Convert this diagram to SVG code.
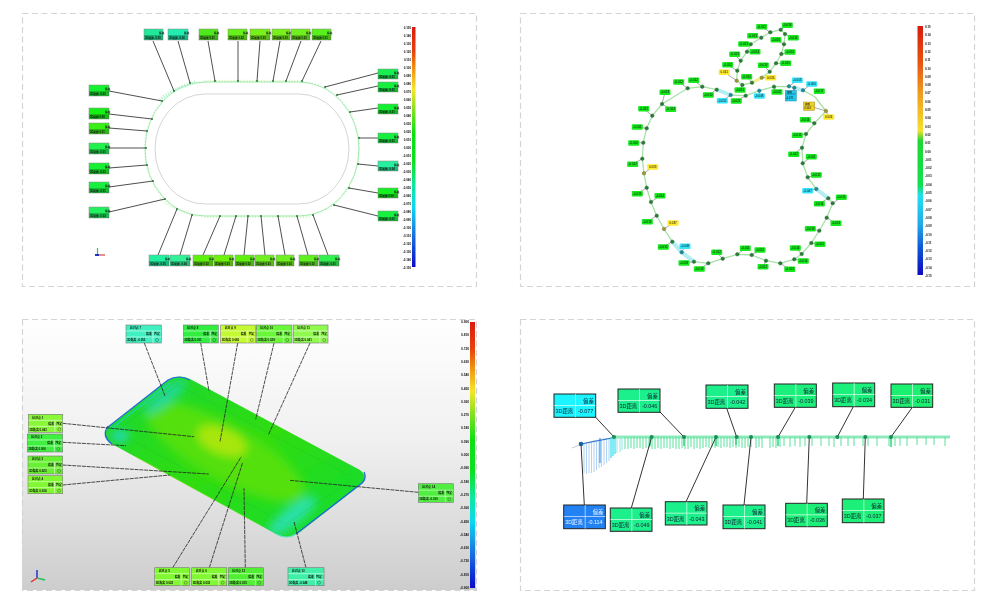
<svg xmlns="http://www.w3.org/2000/svg" width="990" height="600" viewBox="0 0 990 600">
<style>
text{font-family:"Liberation Sans","Noto Sans CJK SC",sans-serif;fill:#111}
.frame{fill:none;stroke:#d4d4d4;stroke-width:1.2;stroke-dasharray:6 3.5}
.ld{stroke:#222;stroke-width:.8;fill:none}
.a text{font-size:2.7px;font-weight:bold}
.a .box{stroke:#888;stroke-width:.5}
.a .low{fill:#000;opacity:.22}
.n{fill:#2a7a38;stroke:#1d6a2b;stroke-width:.4}
.nc{fill:#1d8c9c;stroke:#155f70;stroke-width:.4}
.ny{fill:#9a9a30;stroke:#6e6a20;stroke-width:.4}
.t rect{rx:1;ry:1}
.t text{font-size:3px;text-anchor:middle}
.g rect{fill:#14e81e}
.y rect{fill:#ffe92e}
.c rect{fill:#35e3fb}
.k{font-size:2.9px;font-weight:bold;fill:#333;text-anchor:end}
.p text{font-size:2.9px;font-weight:bold}
.p .box{stroke:#777;stroke-width:.6}
.p .sep{stroke:#fff;stroke-width:.5;fill:none}
.q text{font-size:5.4px;fill:#123}
.q .box{stroke:#222;stroke-width:1}
.q .sep{stroke:#fff;stroke-width:.6;fill:none}
.ql{stroke:#333;stroke-width:1;fill:none}
.qd{fill:#1f8c58}
</style>
<defs>
<linearGradient id="bar" x1="0" y1="0" x2="0" y2="1">
<stop offset="0" stop-color="#d81c10"/><stop offset=".1" stop-color="#e8400f"/><stop offset=".17" stop-color="#f09010"/><stop offset=".26" stop-color="#f5e62c"/><stop offset=".35" stop-color="#80e020"/><stop offset=".44" stop-color="#10e010"/><stop offset=".56" stop-color="#10e020"/><stop offset=".66" stop-color="#10e8a0"/><stop offset=".75" stop-color="#10d8f0"/><stop offset=".87" stop-color="#1470e0"/><stop offset="1" stop-color="#0c0cc8"/>
</linearGradient>
<linearGradient id="bar2" x1="0" y1="0" x2="0" y2="1">
<stop offset="0" stop-color="#d81c10"/><stop offset=".14" stop-color="#e85010"/><stop offset=".28" stop-color="#f0a020"/><stop offset=".42" stop-color="#f5e030"/><stop offset=".46" stop-color="#20d830"/><stop offset=".64" stop-color="#10e050"/><stop offset=".68" stop-color="#20e0f0"/><stop offset=".8" stop-color="#20a8e8"/><stop offset=".88" stop-color="#1060d8"/><stop offset="1" stop-color="#0808c0"/>
</linearGradient>
<linearGradient id="sky" x1="0" y1="0" x2="0" y2="1"><stop offset="0" stop-color="#fff"/><stop offset=".45" stop-color="#f0f0f0"/><stop offset="1" stop-color="#cdcdcd"/></linearGradient>
<linearGradient id="phone" x1="0" y1="0" x2="1" y2="1"><stop offset="0" stop-color="#18d838"/><stop offset=".5" stop-color="#30dc10"/><stop offset="1" stop-color="#10dc38"/></linearGradient>
<clipPath id="ph"><path d="M107 428L168 380Q180 373 192 380L360 470Q368 476 363 483L300 532Q288 541 276 534L112 444Q102 437 107 428Z"/></clipPath>
<filter id="bl" x="-30%" y="-30%" width="160%" height="160%"><feGaussianBlur stdDeviation="5"/></filter>
<filter id="b1" x="-5%" y="-5%" width="110%" height="110%"><feGaussianBlur stdDeviation=".35"/></filter>
<filter id="b2" x="-5%" y="-5%" width="110%" height="110%"><feGaussianBlur stdDeviation=".25"/></filter>
</defs>

<rect width="990" height="600" fill="#fff"/>
<rect x="22" y="319" width="454" height="271" fill="url(#sky)"/>
<rect class="frame" x="22.500" y="13.500" width="454" height="273"/>
<rect class="frame" x="520.500" y="13.500" width="454" height="273"/>
<rect class="frame" x="22.500" y="319.500" width="454" height="271"/>
<rect class="frame" x="520.500" y="319.500" width="454" height="271"/>

<!-- Panel 1 -->
<g id="panel1" filter="url(#b1)">
<g id="track">
<rect x="145" y="82" width="214" height="134" rx="60" ry="67" fill="none" stroke="#86e496" stroke-width=".8"/>
<rect x="144.500" y="81.500" width="215" height="135" rx="60" ry="67" fill="none" stroke="#a8ecb0" stroke-width="1.500" stroke-dasharray=".5 2.500"/>
<path d="M160 100Q172 89 196 82" fill="none" stroke="#a0eec0" stroke-width="3.500" stroke-dasharray=".8 1.800"/>
<path d="M205 81H300" fill="none" stroke="#c0f09c" stroke-width="2.500" stroke-dasharray=".6 2.200"/>
<path d="M160 199Q175 211 198 216M205 217H310" fill="none" stroke="#c0f0b0" stroke-width="2.500" stroke-dasharray=".6 2.200"/>
<rect x="155" y="94" width="194" height="110" rx="50" ry="55" fill="none" stroke="#cfcfcf" stroke-width=".9"/>
</g>
<g id="leaders1" class="ld">
<path d="M153 41L174 91M178 41L190 83M208 41L215 81M238 41V81M260 41L257 81M280 41L273 81M301 41L286 81M321 41L302 81"/>
<path d="M109 91L162 101M109 114L152 119M109 128L147 131M109 148H146M109 168L147 165M109 187L153 181M109 212L165 199"/>
<path d="M158 255L177 209M180 255L192 215M203 255L220 216M224 255L236 216M244 255L248 216M265 255L261 216M285 255L278 216M308 255L297 216M328 255L313 215"/>
<path d="M378 73L325 87M378 86L337 95M378 108L350 112M378 138H359M378 166L358 164M378 193L349 188M378 216L334 205"/>
</g>
<g fill="#2c7a3a">
<circle cx="174" cy="91" r="1"/><circle cx="190" cy="83" r="1"/><circle cx="215" cy="81" r="1"/><circle cx="238" cy="81" r="1"/><circle cx="257" cy="81" r="1"/><circle cx="273" cy="81" r="1"/><circle cx="286" cy="81" r="1"/><circle cx="302" cy="81" r="1"/><circle cx="162" cy="101" r="1"/><circle cx="152" cy="119" r="1"/><circle cx="147" cy="131" r="1"/><circle cx="146" cy="148" r="1"/><circle cx="147" cy="165" r="1"/><circle cx="153" cy="181" r="1"/><circle cx="165" cy="199" r="1"/><circle cx="177" cy="209" r="1"/><circle cx="192" cy="215" r="1"/><circle cx="220" cy="216" r="1"/><circle cx="236" cy="216" r="1"/><circle cx="248" cy="216" r="1"/><circle cx="261" cy="216" r="1"/><circle cx="278" cy="216" r="1"/><circle cx="297" cy="216" r="1"/><circle cx="313" cy="215" r="1"/><circle cx="325" cy="87" r="1"/><circle cx="337" cy="95" r="1"/><circle cx="350" cy="112" r="1"/><circle cx="359" cy="138" r="1"/><circle cx="358" cy="164" r="1"/><circle cx="349" cy="188" r="1"/><circle cx="334" cy="205" r="1"/>
</g>
<g id="a01" class="a" transform="translate(144,29)"><rect class="box" width="19" height="11" fill="#20e89a"/><rect class="low" y="6" width="19" height="5"/><text x="15" y="4.500">偏差</text><text x="1" y="9.500">3D距离 -0.05</text></g>
<g id="a02" class="a" transform="translate(168,29)"><rect class="box" width="20" height="11" fill="#20ecb0"/><rect class="low" y="6" width="20" height="5"/><text x="16" y="4.500">偏差</text><text x="1" y="9.500">3D距离 -0.06</text></g>
<g id="a03" class="a" transform="translate(199,29)"><rect class="box" width="19" height="11" fill="#50e81a"/><rect class="low" y="6" width="19" height="5"/><text x="15" y="4.500">偏差</text><text x="1" y="9.500">3D距离 0.01</text></g>
<g id="a04" class="a" transform="translate(228,29)"><rect class="box" width="19" height="11" fill="#68f01a"/><rect class="low" y="6" width="19" height="5"/><text x="15" y="4.500">偏差</text><text x="1" y="9.500">3D距离 0.02</text></g>
<g id="a05" class="a" transform="translate(250,29)"><rect class="box" width="20" height="11" fill="#78f01a"/><rect class="low" y="6" width="20" height="5"/><text x="16" y="4.500">偏差</text><text x="1" y="9.500">3D距离 0.03</text></g>
<g id="a06" class="a" transform="translate(272,29)"><rect class="box" width="18" height="11" fill="#78f01a"/><rect class="low" y="6" width="18" height="5"/><text x="14" y="4.500">偏差</text><text x="1" y="9.500">3D距离 0.03</text></g>
<g id="a07" class="a" transform="translate(291,29)"><rect class="box" width="19" height="11" fill="#70f01a"/><rect class="low" y="6" width="19" height="5"/><text x="15" y="4.500">偏差</text><text x="1" y="9.500">3D距离 0.02</text></g>
<g id="a08" class="a" transform="translate(312,29)"><rect class="box" width="19" height="11" fill="#58f01a"/><rect class="low" y="6" width="19" height="5"/><text x="15" y="4.500">偏差</text><text x="1" y="9.500">3D距离 0.01</text></g>
<g id="a09" class="a" transform="translate(89,85)"><rect class="box" width="20" height="11" fill="#18f030"/><rect class="low" y="6" width="20" height="5"/><text x="16" y="4.500">偏差</text><text x="1" y="9.500">3D距离 -0.01</text></g>
<g id="a10" class="a" transform="translate(89,108)"><rect class="box" width="20" height="11" fill="#18f018"/><rect class="low" y="6" width="20" height="5"/><text x="16" y="4.500">偏差</text><text x="1" y="9.500">3D距离 0.00</text></g>
<g id="a11" class="a" transform="translate(89,123)"><rect class="box" width="20" height="11" fill="#38f018"/><rect class="low" y="6" width="20" height="5"/><text x="16" y="4.500">偏差</text><text x="1" y="9.500">3D距离 0.01</text></g>
<g id="a12" class="a" transform="translate(89,143)"><rect class="box" width="20" height="11" fill="#20f050"/><rect class="low" y="6" width="20" height="5"/><text x="16" y="4.500">偏差</text><text x="1" y="9.500">3D距离 -0.01</text></g>
<g id="a13" class="a" transform="translate(89,163)"><rect class="box" width="20" height="11" fill="#18f030"/><rect class="low" y="6" width="20" height="5"/><text x="16" y="4.500">偏差</text><text x="1" y="9.500">3D距离 -0.01</text></g>
<g id="a14" class="a" transform="translate(89,182)"><rect class="box" width="20" height="11" fill="#18f040"/><rect class="low" y="6" width="20" height="5"/><text x="16" y="4.500">偏差</text><text x="1" y="9.500">3D距离 -0.01</text></g>
<g id="a15" class="a" transform="translate(89,207)"><rect class="box" width="20" height="11" fill="#20f060"/><rect class="low" y="6" width="20" height="5"/><text x="16" y="4.500">偏差</text><text x="1" y="9.500">3D距离 -0.02</text></g>
<g id="a16" class="a" transform="translate(149,255)"><rect class="box" width="20" height="11" fill="#20f0a0"/><rect class="low" y="6" width="20" height="5"/><text x="16" y="4.500">偏差</text><text x="1" y="9.500">3D距离 -0.05</text></g>
<g id="a17" class="a" transform="translate(170,255)"><rect class="box" width="20" height="11" fill="#30f098"/><rect class="low" y="6" width="20" height="5"/><text x="16" y="4.500">偏差</text><text x="1" y="9.500">3D距离 -0.04</text></g>
<g id="a18" class="a" transform="translate(193,255)"><rect class="box" width="20" height="11" fill="#60f010"/><rect class="low" y="6" width="20" height="5"/><text x="16" y="4.500">偏差</text><text x="1" y="9.500">3D距离 0.02</text></g>
<g id="a19" class="a" transform="translate(214,255)"><rect class="box" width="19" height="11" fill="#70f010"/><rect class="low" y="6" width="19" height="5"/><text x="15" y="4.500">偏差</text><text x="1" y="9.500">3D距离 0.03</text></g>
<g id="a20" class="a" transform="translate(235,255)"><rect class="box" width="19" height="11" fill="#60f010"/><rect class="low" y="6" width="19" height="5"/><text x="15" y="4.500">偏差</text><text x="1" y="9.500">3D距离 0.02</text></g>
<g id="a21" class="a" transform="translate(255,255)"><rect class="box" width="19" height="11" fill="#70f020"/><rect class="low" y="6" width="19" height="5"/><text x="15" y="4.500">偏差</text><text x="1" y="9.500">3D距离 0.03</text></g>
<g id="a22" class="a" transform="translate(276,255)"><rect class="box" width="18" height="11" fill="#70f020"/><rect class="low" y="6" width="18" height="5"/><text x="14" y="4.500">偏差</text><text x="1" y="9.500">3D距离 0.03</text></g>
<g id="a23" class="a" transform="translate(299,255)"><rect class="box" width="19" height="11" fill="#60f020"/><rect class="low" y="6" width="19" height="5"/><text x="15" y="4.500">偏差</text><text x="1" y="9.500">3D距离 0.02</text></g>
<g id="a24" class="a" transform="translate(319,255)"><rect class="box" width="20" height="11" fill="#30f050"/><rect class="low" y="6" width="20" height="5"/><text x="16" y="4.500">偏差</text><text x="1" y="9.500">3D距离 -0.01</text></g>
<g id="a25" class="a" transform="translate(378,69)"><rect class="box" width="20" height="10" fill="#18ef50"/><rect class="low" y="6" width="20" height="4"/><text x="16" y="4.500">偏差</text><text x="1" y="9">3D距离 -0.01</text></g>
<g id="a26" class="a" transform="translate(378,82)"><rect class="box" width="20" height="10" fill="#18ef40"/><rect class="low" y="6" width="20" height="4"/><text x="16" y="4.500">偏差</text><text x="1" y="9">3D距离 -0.01</text></g>
<g id="a27" class="a" transform="translate(378,104)"><rect class="box" width="20" height="10" fill="#18f030"/><rect class="low" y="6" width="20" height="4"/><text x="16" y="4.500">偏差</text><text x="1" y="9">3D距离 -0.01</text></g>
<g id="a28" class="a" transform="translate(378,133)"><rect class="box" width="20" height="10" fill="#18ef40"/><rect class="low" y="6" width="20" height="4"/><text x="16" y="4.500">偏差</text><text x="1" y="9">3D距离 -0.01</text></g>
<g id="a29" class="a" transform="translate(378,161)"><rect class="box" width="20" height="10" fill="#28f0a0"/><rect class="low" y="6" width="20" height="4"/><text x="16" y="4.500">偏差</text><text x="1" y="9">3D距离 -0.04</text></g>
<g id="a30" class="a" transform="translate(378,188)"><rect class="box" width="20" height="10" fill="#18f020"/><rect class="low" y="6" width="20" height="4"/><text x="16" y="4.500">偏差</text><text x="1" y="9">3D距离 0.00</text></g>
<g id="a31" class="a" transform="translate(378,211)"><rect class="box" width="20" height="10" fill="#18f040"/><rect class="low" y="6" width="20" height="4"/><text x="16" y="4.500">偏差</text><text x="1" y="9">3D距离 -0.01</text></g>
<rect x="412" y="27" width="3.500" height="240" fill="url(#bar)"/>
<g class="k" transform="translate(8,0)">
<text x="403" y="29">0.150</text><text x="403" y="37">0.140</text><text x="403" y="45">0.130</text><text x="403" y="53">0.120</text><text x="403" y="61">0.110</text><text x="403" y="69">0.100</text><text x="403" y="77">0.090</text><text x="403" y="85">0.080</text><text x="403" y="93">0.070</text><text x="403" y="101">0.060</text><text x="403" y="109">0.050</text><text x="403" y="117">0.040</text><text x="403" y="125">0.030</text><text x="403" y="133">0.020</text><text x="403" y="141">0.010</text><text x="403" y="149">0.000</text><text x="403" y="157">-0.010</text><text x="403" y="165">-0.020</text><text x="403" y="173">-0.030</text><text x="403" y="181">-0.040</text><text x="403" y="189">-0.050</text><text x="403" y="197">-0.060</text><text x="403" y="205">-0.070</text><text x="403" y="213">-0.080</text><text x="403" y="221">-0.090</text><text x="403" y="229">-0.100</text><text x="403" y="237">-0.110</text><text x="403" y="245">-0.120</text><text x="403" y="253">-0.130</text><text x="403" y="261">-0.140</text><text x="403" y="269">-0.150</text>
</g>
<g id="axes1" fill="none" stroke-width="1.2"><path d="M97.500 255V248" stroke="#40c050"/><path d="M97.500 255H105" stroke="#e04040"/><path d="M95 255H99" stroke="#2030c0" stroke-width="2"/></g>
</g>

<!-- Panel 2 -->
<g id="panel2" filter="url(#b2)">
<g id="apple-line" fill="none" stroke="#a8e0a8" stroke-width="1.3" stroke-linejoin="round">
<path d="M742.300 85L736.700 80.700L737.300 70.700L740.700 60.700L747 51.700L750.700 44.300L761.300 37.700L770.300 32.300L780.700 29.700L785 34L784 44.300L781.300 54L776 63.300L769.700 71.700L761.700 77.700L752 82.700Z"/>
<path d="M643.300 142.700L646.700 128.300L652.300 115.700L662 104L687.700 88.300L702.300 86.700L716.700 89.700L730.700 95L745.700 95.700L759.300 90.700L774 86.700L789 86.300L794.300 87.700L803 90.300L815 97L826 111L814.300 123.300L806 134L802 147.700L802.700 163.300L807.700 177.300L816.300 189L828.300 198.300L832.700 203.300L826.700 217.700L819.300 230.700L811.300 243L801.700 254L794.300 259.300L780.300 263.300L766 260.700L751.700 255L737.300 254.300L722.700 258.700L708.300 263.300L694 261.700L681.700 252.300L672.300 241.700L664 229L656.700 215.700L651 202L646.700 187.700L644 173.300L642.300 158.700Z"/>
<path d="M716.700 89.700L730.700 95M794.300 87.700L803 90.300M816.300 189L828.300 198.300M672.300 241.700L681.700 252.300L694 261.700" stroke="#b4eef4" stroke-width="4"/>
<path d="M752 82.700L761.700 77.700" stroke="#f2ee90" stroke-width="3"/>
</g>
<g id="ticks2" stroke="#555" stroke-width=".5">
<path d="M770.300 32.300L761.700 26.700M780.700 29.700L787.300 25.300M761.300 37.700L752.700 35.700M784 44.300L776 39.700M785 34L793.300 37.700M750.700 44.300L743.700 44M747 51.700L755 51.700M781.300 54L790 52M740.700 60.700L734.700 54.300M776 63.300L785.700 63.300M737.300 70.700L727.700 64.700M769.700 71.700L763.300 65.300M736.700 80.700L724.300 72.300M761.700 77.700L770.700 77.700M752 82.700L746.700 76.700M742.300 85L740 90M687.700 88.300L678.700 82M702.300 86.700L693.700 80.300M662 104L665 92.300M716.700 89.700L708.300 95M730.700 95L722.300 100.700M745.700 95.700L736.300 101M759.300 90.700V96M774 86.700L777 92M789 86.300L797.300 80.300M803 90.300L811.700 84M794.300 87.700L790.700 96M826 111L809.300 106M826 111L828.700 117M814.300 123.300L805.300 119.700M806 134L797.300 135.300M652.300 115.700L643.700 108.700M662 104L670.700 109.300M646.700 128.300L637.300 127M643.300 142.700L633.700 143M642.300 158.700L632.700 164.300M644 173.300L652.700 167M646.700 187.700L637.300 193.700M651 202L660 195.700M656.700 215.700L647.300 221.700M664 229L673 223M672.300 241.700L663.300 247M681.700 252.300L685 246.300M694 261.700L684 263M708.300 263.300L699.300 269M722.700 258.700L716.700 252.300M737.300 254.300L745.300 248.300M751.700 255L760 250M766 260.700L763 266.700M780.300 263.300L789.700 269.300M801.700 254L795.300 248M794.300 259.300L803.300 261M811.300 243L820 244.300M819.300 230.700L810.300 228.700M826.700 217.700L836 223.300M828.300 198.300L819.300 203.700M832.700 203.300L841.300 197.300M816.300 189L807.700 190.700M807.700 177.300L816.300 175M802.700 163.300L811.300 156.700M802 147.700L793.700 154.300"/>
</g>
<g id="nodes2">
<circle class="n" cx="742.300" cy="85" r="1.800"/><circle class="ny" cx="736.700" cy="80.700" r="1.800"/><circle class="n" cx="737.300" cy="70.700" r="1.800"/><circle class="n" cx="740.700" cy="60.700" r="1.800"/><circle class="n" cx="747" cy="51.700" r="1.800"/><circle class="n" cx="750.700" cy="44.300" r="1.800"/><circle class="n" cx="761.300" cy="37.700" r="1.800"/><circle class="n" cx="770.300" cy="32.300" r="1.800"/><circle class="n" cx="780.700" cy="29.700" r="1.800"/><circle class="n" cx="785" cy="34" r="1.800"/><circle class="n" cx="784" cy="44.300" r="1.800"/><circle class="n" cx="781.300" cy="54" r="1.800"/><circle class="n" cx="776" cy="63.300" r="1.800"/><circle class="n" cx="769.700" cy="71.700" r="1.800"/><circle class="ny" cx="761.700" cy="77.700" r="1.800"/><circle class="n" cx="752" cy="82.700" r="1.800"/>
<circle class="n" cx="643.300" cy="142.700" r="1.800"/><circle class="n" cx="646.700" cy="128.300" r="1.800"/><circle class="n" cx="652.300" cy="115.700" r="1.800"/><circle class="n" cx="662" cy="104" r="1.800"/><circle class="n" cx="687.700" cy="88.300" r="1.800"/><circle class="n" cx="702.300" cy="86.700" r="1.800"/><circle class="n" cx="716.700" cy="89.700" r="1.800"/><circle class="nc" cx="730.700" cy="95" r="1.800"/><circle class="n" cx="745.700" cy="95.700" r="1.800"/><circle class="nc" cx="759.300" cy="90.700" r="1.800"/><circle class="n" cx="774" cy="86.700" r="1.800"/><circle class="nc" cx="789" cy="86.300" r="1.800"/><circle class="nc" cx="794.300" cy="87.700" r="1.800"/><circle class="nc" cx="803" cy="90.300" r="1.800"/><circle class="ny" cx="826" cy="111" r="1.800"/><circle class="n" cx="814.300" cy="123.300" r="1.800"/><circle class="n" cx="806" cy="134" r="1.800"/><circle class="n" cx="802" cy="147.700" r="1.800"/><circle class="n" cx="802.700" cy="163.300" r="1.800"/><circle class="n" cx="807.700" cy="177.300" r="1.800"/><circle class="nc" cx="816.300" cy="189" r="1.800"/><circle class="n" cx="828.300" cy="198.300" r="1.800"/><circle class="n" cx="832.700" cy="203.300" r="1.800"/><circle class="n" cx="826.700" cy="217.700" r="1.800"/><circle class="n" cx="819.300" cy="230.700" r="1.800"/><circle class="n" cx="811.300" cy="243" r="1.800"/><circle class="n" cx="801.700" cy="254" r="1.800"/><circle class="n" cx="794.300" cy="259.300" r="1.800"/><circle class="n" cx="780.300" cy="263.300" r="1.800"/><circle class="n" cx="766" cy="260.700" r="1.800"/><circle class="n" cx="751.700" cy="255" r="1.800"/><circle class="n" cx="737.300" cy="254.300" r="1.800"/><circle class="n" cx="722.700" cy="258.700" r="1.800"/><circle class="n" cx="708.300" cy="263.300" r="1.800"/><circle class="n" cx="694" cy="261.700" r="1.800"/><circle class="nc" cx="681.700" cy="252.300" r="1.800"/><circle class="n" cx="672.300" cy="241.700" r="1.800"/><circle class="ny" cx="664" cy="229" r="1.800"/><circle class="n" cx="656.700" cy="215.700" r="1.800"/><circle class="n" cx="651" cy="202" r="1.800"/><circle class="n" cx="646.700" cy="187.700" r="1.800"/><circle class="ny" cx="644" cy="173.300" r="1.800"/><circle class="n" cx="642.300" cy="158.700" r="1.800"/>
</g>
<g id="tags2" class="t">
<g class="g"><rect x="756.200" y="24" width="11" height="5.400"/><text x="761.700" y="27.800">-0.012</text></g>
<g class="g"><rect x="781.800" y="22.600" width="11" height="5.400"/><text x="787.300" y="26.400">-0.018</text></g>
<g class="g"><rect x="747.200" y="33" width="11" height="5.400"/><text x="752.700" y="36.800">-0.013</text></g>
<g class="g"><rect x="770.500" y="37" width="11" height="5.400"/><text x="776" y="40.800">-0.016</text></g>
<g class="g"><rect x="787.800" y="35" width="11" height="5.400"/><text x="793.300" y="38.800">-0.016</text></g>
<g class="g"><rect x="738.200" y="41.300" width="11" height="5.400"/><text x="743.700" y="45.100">-0.013</text></g>
<g class="g"><rect x="749.500" y="49" width="11" height="5.400"/><text x="755" y="52.800">-0.014</text></g>
<g class="g"><rect x="784.500" y="49.300" width="11" height="5.400"/><text x="790" y="53.100">-0.015</text></g>
<g class="g"><rect x="729.200" y="51.600" width="11" height="5.400"/><text x="734.700" y="55.400">-0.013</text></g>
<g class="g"><rect x="780.200" y="60.600" width="11" height="5.400"/><text x="785.700" y="64.400">-0.015</text></g>
<g class="g"><rect x="722.200" y="62" width="11" height="5.400"/><text x="727.700" y="65.800">-0.012</text></g>
<g class="g"><rect x="757.800" y="62.600" width="11" height="5.400"/><text x="763.300" y="66.400">-0.013</text></g>
<g class="y"><rect x="718.800" y="69.600" width="11" height="5.400"/><text x="724.300" y="73.400">0.041</text></g>
<g class="y"><rect x="765.200" y="75" width="11" height="5.400"/><text x="770.700" y="78.800">0.036</text></g>
<g class="g"><rect x="741.200" y="74" width="11" height="5.400"/><text x="746.700" y="77.800">-0.010</text></g>
<g class="g"><rect x="734.500" y="87.300" width="11" height="5.400"/><text x="740" y="91.100">-0.011</text></g>
<g class="g"><rect x="673.200" y="79.300" width="11" height="5.400"/><text x="678.700" y="83.100">-0.012</text></g>
<g class="g"><rect x="688.200" y="77.600" width="11" height="5.400"/><text x="693.700" y="81.400">-0.012</text></g>
<g class="g"><rect x="659.500" y="89.600" width="11" height="5.400"/><text x="665" y="93.400">-0.013</text></g>
<g class="g"><rect x="702.800" y="92.300" width="11" height="5.400"/><text x="708.300" y="96.100">-0.010</text></g>
<g class="c"><rect x="716.800" y="98" width="11" height="5.400"/><text x="722.300" y="101.800">-0.052</text></g>
<g class="g"><rect x="730.800" y="98.300" width="11" height="5.400"/><text x="736.300" y="102.100">-0.021</text></g>
<g class="c"><rect x="753.800" y="93.300" width="11" height="5.400"/><text x="759.300" y="97.100">-0.048</text></g>
<g class="g"><rect x="771.500" y="89.300" width="11" height="5.400"/><text x="777" y="93.100">-0.022</text></g>
<g class="c"><rect x="791.800" y="77.600" width="11" height="5.400"/><text x="797.300" y="81.400">-0.053</text></g>
<g class="c"><rect x="806.200" y="81.300" width="11" height="5.400"/><text x="811.700" y="85.100">-0.050</text></g>
<g class="g"><rect x="813.800" y="88.600" width="11" height="5.400"/><text x="819.300" y="92.400">-0.017</text></g>
<g class="y"><rect x="823.200" y="114.300" width="11" height="5.400"/><text x="828.700" y="118.100">0.034</text></g>
<g class="g"><rect x="799.800" y="117" width="11" height="5.400"/><text x="805.300" y="120.800">-0.014</text></g>
<g class="g"><rect x="791.800" y="132.600" width="11" height="5.400"/><text x="797.300" y="136.400">-0.012</text></g>
<g class="g"><rect x="638.200" y="106" width="11" height="5.400"/><text x="643.700" y="109.800">-0.012</text></g>
<g class="g"><rect x="665.200" y="106.600" width="11" height="5.400"/><text x="670.700" y="110.400">-0.013</text></g>
<g class="g"><rect x="631.800" y="124.300" width="11" height="5.400"/><text x="637.300" y="128.100">-0.011</text></g>
<g class="g"><rect x="628.200" y="140.300" width="11" height="5.400"/><text x="633.700" y="144.100">-0.010</text></g>
<g class="g"><rect x="627.200" y="161.600" width="11" height="5.400"/><text x="632.700" y="165.400">-0.012</text></g>
<g class="y"><rect x="647.200" y="164.300" width="11" height="5.400"/><text x="652.700" y="168.100">0.033</text></g>
<g class="g"><rect x="631.800" y="191" width="11" height="5.400"/><text x="637.300" y="194.800">-0.013</text></g>
<g class="g"><rect x="654.500" y="193" width="11" height="5.400"/><text x="660" y="196.800">-0.014</text></g>
<g class="g"><rect x="641.800" y="219" width="11" height="5.400"/><text x="647.300" y="222.800">-0.013</text></g>
<g class="y"><rect x="667.500" y="220.300" width="11" height="5.400"/><text x="673" y="224.100">0.037</text></g>
<g class="g"><rect x="657.800" y="244.300" width="11" height="5.400"/><text x="663.300" y="248.100">-0.015</text></g>
<g class="c"><rect x="679.500" y="243.600" width="11" height="5.400"/><text x="685" y="247.400">-0.049</text></g>
<g class="g"><rect x="678.500" y="260.300" width="11" height="5.400"/><text x="684" y="264.100">-0.018</text></g>
<g class="g"><rect x="693.800" y="266.300" width="11" height="5.400"/><text x="699.300" y="270.100">-0.013</text></g>
<g class="g"><rect x="711.200" y="249.600" width="11" height="5.400"/><text x="716.700" y="253.400">-0.012</text></g>
<g class="g"><rect x="739.800" y="245.600" width="11" height="5.400"/><text x="745.300" y="249.400">-0.011</text></g>
<g class="g"><rect x="754.500" y="247.300" width="11" height="5.400"/><text x="760" y="251.100">-0.012</text></g>
<g class="g"><rect x="757.500" y="264" width="11" height="5.400"/><text x="763" y="267.800">-0.012</text></g>
<g class="g"><rect x="784.200" y="266.600" width="11" height="5.400"/><text x="789.700" y="270.400">-0.013</text></g>
<g class="g"><rect x="789.800" y="245.300" width="11" height="5.400"/><text x="795.300" y="249.100">-0.014</text></g>
<g class="g"><rect x="797.800" y="258.300" width="11" height="5.400"/><text x="803.300" y="262.100">-0.014</text></g>
<g class="g"><rect x="814.500" y="241.600" width="11" height="5.400"/><text x="820" y="245.400">-0.012</text></g>
<g class="g"><rect x="804.800" y="226" width="11" height="5.400"/><text x="810.300" y="229.800">-0.013</text></g>
<g class="g"><rect x="830.500" y="220.600" width="11" height="5.400"/><text x="836" y="224.400">-0.013</text></g>
<g class="g"><rect x="813.800" y="201" width="11" height="5.400"/><text x="819.300" y="204.800">-0.014</text></g>
<g class="g"><rect x="835.800" y="194.600" width="11" height="5.400"/><text x="841.300" y="198.400">-0.015</text></g>
<g class="c"><rect x="802.200" y="188" width="11" height="5.400"/><text x="807.700" y="191.800">-0.047</text></g>
<g class="g"><rect x="810.800" y="172.300" width="11" height="5.400"/><text x="816.300" y="176.100">-0.012</text></g>
<g class="g"><rect x="805.800" y="154" width="11" height="5.400"/><text x="811.300" y="157.800">-0.011</text></g>
<g class="g"><rect x="788.200" y="151.600" width="11" height="5.400"/><text x="793.700" y="155.400">-0.012</text></g>
</g>
<g id="boxes2">
<g id="box-blue"><rect x="785.300" y="90.500" width="11" height="10.500" fill="#1fc8ec" stroke="#1a8ca8" stroke-width=".5"/><path d="M785.800 94H795.800" stroke="#136" stroke-width=".4"/><text x="787" y="93.300" style="font-size:2.600px">偏差</text><text x="786" y="98.500" style="font-size:2.600px">-0.071</text></g>
<g id="box-yellow"><rect x="803.700" y="102" width="11" height="8.300" fill="#f0d020" stroke="#a08a20" stroke-width=".5"/><path d="M804 106H814.500" stroke="#7a6" stroke-width=".4"/><text x="805" y="105" style="font-size:2.600px">偏差</text><text x="804.500" y="109.300" style="font-size:2.600px">0.044</text></g>
</g>
<rect x="917.500" y="26" width="5.500" height="249" fill="url(#bar2)"/>
<g class="k" style="text-anchor:start">
<text x="925" y="28">0.15</text><text x="925" y="36.300">0.14</text><text x="925" y="44.600">0.13</text><text x="925" y="52.900">0.12</text><text x="925" y="61.200">0.11</text><text x="925" y="69.500">0.10</text><text x="925" y="77.800">0.09</text><text x="925" y="86.100">0.08</text><text x="925" y="94.400">0.07</text><text x="925" y="102.700">0.06</text><text x="925" y="111">0.05</text><text x="925" y="119.300">0.04</text><text x="925" y="127.600">0.03</text><text x="925" y="135.900">0.02</text><text x="925" y="144.200">0.01</text><text x="925" y="152.500">0.00</text><text x="925" y="160.800">-0.01</text><text x="925" y="169.100">-0.02</text><text x="925" y="177.400">-0.03</text><text x="925" y="185.700">-0.04</text><text x="925" y="194">-0.05</text><text x="925" y="202.300">-0.06</text><text x="925" y="210.600">-0.07</text><text x="925" y="218.900">-0.08</text><text x="925" y="227.200">-0.09</text><text x="925" y="235.500">-0.10</text><text x="925" y="243.800">-0.11</text><text x="925" y="252.100">-0.12</text><text x="925" y="260.400">-0.13</text><text x="925" y="268.700">-0.14</text><text x="925" y="277">-0.15</text>
</g>
</g>

<!-- Panel 3 -->
<g id="panel3" filter="url(#b2)">
<g id="phone-body">
<path d="M107 428L168 380Q180 373 192 380L360 470Q368 476 363 483L300 532Q288 541 276 534L112 444Q102 437 107 428Z" fill="url(#phone)"/>
<g clip-path="url(#ph)">
<g filter="url(#bl)">
<ellipse cx="225" cy="452" rx="90" ry="28" transform="rotate(29 225 452)" fill="#52e010"/>
<ellipse cx="222" cy="441" rx="26" ry="13" transform="rotate(22 222 441)" fill="#a8e60c"/>
<ellipse cx="165" cy="397" rx="26" ry="7" transform="rotate(-38 165 397)" fill="#24d898"/>
<ellipse cx="292" cy="516" rx="30" ry="9" transform="rotate(-38 292 516)" fill="#2ce0a8"/>
<ellipse cx="120" cy="436" rx="9" ry="6" fill="#24d8c0"/>
</g>
<path d="M135 457L260 526" stroke="#8ce020" stroke-width="2" fill="none" opacity=".75"/>
<path d="M118 430L178 385L350 476M128 438L285 524L352 480" fill="none" stroke="#109030" stroke-width=".4" stroke-dasharray="1.500 1.500" opacity=".5"/>
</g>
<path d="M108 427L168 380Q178 374 190 380" fill="none" stroke="#2468dc" stroke-width="1.200"/>
<path d="M111 429L170 383" fill="none" stroke="#20d0e8" stroke-width="1.200" opacity=".7"/>
<path d="M296 534L362 483Q367 478 364 472" fill="none" stroke="#2468dc" stroke-width="1.300"/>
<path d="M108 426Q101 436 112 444" fill="none" stroke="#2468dc" stroke-width="1.300"/>
<path d="M276 534Q287 540 296 534" fill="none" stroke="#60e0c0" stroke-width="1.200"/>
</g>
<g id="leaders3" class="ld" stroke-dasharray="4 .8">
<path d="M144.300 343L165.300 396.700M200.700 343L209 391M237.700 343L220 441.700M274 343L255.700 419.300M310 343L268.300 435"/>
<path d="M62.700 423.300L194 436.700M62.700 442.300L126 445.700M62.700 465L208.700 474M62.700 485L170 475"/>
<path d="M172.700 567.700L241.300 456.700M209.300 567.700L242.700 462.300M245.300 567.700L244 488.300M306 567.700L294 521.700M418.300 492.300L289.300 480.300"/>
</g>
<g id="p01" class="p" transform="translate(126,325)"><rect class="box" width="35.300" height="18" fill="#40f0c0"/><path class="sep" d="M0 6H35.300M0 12H35.300M27 6V18"/><text x="4" y="4.300">比对点 7</text><text x="20" y="10.300">偏差</text><text x="28" y="10.300">判定</text><text x="1" y="16.300">3D距离 -0.053</text><circle cx="31" cy="15" r="1.500" fill="none" stroke="#333" stroke-width=".4"/></g>
<g id="p02" class="p" transform="translate(183.300,325)"><rect class="box" width="35" height="18" fill="#30ee40"/><path class="sep" d="M0 6H35M0 12H35M27 6V18"/><text x="4" y="4.300">比对点 8</text><text x="20" y="10.300">偏差</text><text x="28" y="10.300">判定</text><text x="1" y="16.300">3D距离 0.011</text><circle cx="31" cy="15" r="1.500" fill="none" stroke="#333" stroke-width=".4"/></g>
<g id="p03" class="p" transform="translate(220.700,325)"><rect class="box" width="34.600" height="18" fill="#c4fa30"/><path class="sep" d="M0 6H34.600M0 12H34.600M26.500 6V18"/><text x="4" y="4.300">比对点 9</text><text x="20" y="10.300">偏差</text><text x="28" y="10.300">判定</text><text x="1" y="16.300">3D距离 0.065</text><circle cx="31" cy="15" r="1.500" fill="none" stroke="#333" stroke-width=".4"/></g>
<g id="p04" class="p" transform="translate(256.300,325)"><rect class="box" width="35.700" height="18" fill="#68f838"/><path class="sep" d="M0 6H35.700M0 12H35.700M27 6V18"/><text x="4" y="4.300">比对点 10</text><text x="20" y="10.300">偏差</text><text x="28" y="10.300">判定</text><text x="1" y="16.300">3D距离 0.029</text><circle cx="31" cy="15" r="1.500" fill="none" stroke="#333" stroke-width=".4"/></g>
<g id="p05" class="p" transform="translate(293.300,325)"><rect class="box" width="34.700" height="18" fill="#90fa50"/><path class="sep" d="M0 6H34.700M0 12H34.700M26.500 6V18"/><text x="4" y="4.300">比对点 11</text><text x="20" y="10.300">偏差</text><text x="28" y="10.300">判定</text><text x="1" y="16.300">3D距离 0.041</text><circle cx="31" cy="15" r="1.500" fill="none" stroke="#333" stroke-width=".4"/></g>
<g id="p06" class="p" transform="translate(28.300,414.300)"><rect class="box" width="34.400" height="18" fill="#88f838"/><path class="sep" d="M0 6H34.400M0 12H34.400M26.500 6V18"/><text x="4" y="4.300">比对点 1</text><text x="20" y="10.300">偏差</text><text x="28" y="10.300">判定</text><text x="1" y="16.300">3D距离 0.043</text><circle cx="31" cy="15" r="1.500" fill="none" stroke="#333" stroke-width=".4"/></g>
<g id="p07" class="p" transform="translate(27.300,434)"><rect class="box" width="35.400" height="18" fill="#40f040"/><path class="sep" d="M0 6H35.400M0 12H35.400M27 6V18"/><text x="4" y="4.300">比对点 2</text><text x="20" y="10.300">偏差</text><text x="28" y="10.300">判定</text><text x="1" y="16.300">3D距离 0.006</text><circle cx="31" cy="15" r="1.500" fill="none" stroke="#333" stroke-width=".4"/></g>
<g id="p08" class="p" transform="translate(28,456)"><rect class="box" width="34.700" height="18" fill="#68f030"/><path class="sep" d="M0 6H34.700M0 12H34.700M26.500 6V18"/><text x="4" y="4.300">比对点 3</text><text x="20" y="10.300">偏差</text><text x="28" y="10.300">判定</text><text x="1" y="16.300">3D距离 0.023</text><circle cx="31" cy="15" r="1.500" fill="none" stroke="#333" stroke-width=".4"/></g>
<g id="p09" class="p" transform="translate(28,475.700)"><rect class="box" width="34.700" height="18" fill="#80f830"/><path class="sep" d="M0 6H34.700M0 12H34.700M26.500 6V18"/><text x="4" y="4.300">比对点 4</text><text x="20" y="10.300">偏差</text><text x="28" y="10.300">判定</text><text x="1" y="16.300">3D距离 0.034</text><circle cx="31" cy="15" r="1.500" fill="none" stroke="#333" stroke-width=".4"/></g>
<g id="p10" class="p" transform="translate(154.700,567.700)"><rect class="box" width="34.600" height="18" fill="#80f830"/><path class="sep" d="M0 6H34.600M0 12H34.600M26.500 6V18"/><text x="4" y="4.300">比对点 5</text><text x="20" y="10.300">偏差</text><text x="28" y="10.300">判定</text><text x="1" y="16.300">3D距离 0.022</text><circle cx="31" cy="15" r="1.500" fill="none" stroke="#333" stroke-width=".4"/></g>
<g id="p11" class="p" transform="translate(191.700,567.700)"><rect class="box" width="35" height="18" fill="#80f830"/><path class="sep" d="M0 6H35M0 12H35M27 6V18"/><text x="4" y="4.300">比对点 6</text><text x="20" y="10.300">偏差</text><text x="28" y="10.300">判定</text><text x="1" y="16.300">3D距离 0.032</text><circle cx="31" cy="15" r="1.500" fill="none" stroke="#333" stroke-width=".4"/></g>
<g id="p12" class="p" transform="translate(228.300,567.700)"><rect class="box" width="35" height="18" fill="#50f030"/><path class="sep" d="M0 6H35M0 12H35M27 6V18"/><text x="4" y="4.300">比对点 12</text><text x="20" y="10.300">偏差</text><text x="28" y="10.300">判定</text><text x="1" y="16.300">3D距离 0.015</text><circle cx="31" cy="15" r="1.500" fill="none" stroke="#333" stroke-width=".4"/></g>
<g id="p13" class="p" transform="translate(288,567.700)"><rect class="box" width="36" height="18" fill="#40f0a8"/><path class="sep" d="M0 6H36M0 12H36M27.500 6V18"/><text x="4" y="4.300">比对点 13</text><text x="20" y="10.300">偏差</text><text x="28" y="10.300">判定</text><text x="1" y="16.300">3D距离 -0.048</text><circle cx="31" cy="15" r="1.500" fill="none" stroke="#333" stroke-width=".4"/></g>
<g id="p14" class="p" transform="translate(418.300,483.700)"><rect class="box" width="35" height="18.600" fill="#50ee40"/><path class="sep" d="M0 6.500H35M0 12.500H35M27 6.500V18.600"/><text x="4" y="4.500">比对点 14</text><text x="20" y="10.600">偏差</text><text x="28" y="10.600">判定</text><text x="1" y="16.800">3D距离 -0.010</text><circle cx="31" cy="15.500" r="1.500" fill="none" stroke="#333" stroke-width=".4"/></g>
<rect x="470" y="322" width="5" height="266" fill="url(#bar)"/>
<g class="k" style="font-size:3.200px" transform="translate(10,0)">
<text x="459" y="323">0.900</text><text x="459" y="336.300">0.810</text><text x="459" y="349.600">0.720</text><text x="459" y="362.900">0.630</text><text x="459" y="376.200">0.540</text><text x="459" y="389.500">0.450</text><text x="459" y="402.800">0.360</text><text x="459" y="416.100">0.270</text><text x="459" y="429.400">0.180</text><text x="459" y="442.700">0.090</text><text x="459" y="456">0.000</text><text x="459" y="469.300">-0.090</text><text x="459" y="482.600">-0.180</text><text x="459" y="495.900">-0.270</text><text x="459" y="509.200">-0.360</text><text x="459" y="522.500">-0.450</text><text x="459" y="535.800">-0.540</text><text x="459" y="549.100">-0.630</text><text x="459" y="562.400">-0.720</text><text x="459" y="575.700">-0.810</text><text x="459" y="589">-0.900</text>
</g>
<g id="axes3" fill="none" stroke-width="1.500"><path d="M37 578V570" stroke="#2030d0"/><path d="M37 578L31 582" stroke="#e03030"/><path d="M37 578L45 580" stroke="#20c060"/></g>
</g>

<!-- Panel 4 -->
<g id="panel4" filter="url(#b2)">
<g id="needles">
<path d="M572 448Q590 440 612 438" fill="none" stroke="#c8c8c8" stroke-width="1"/>
<path d="M584 444V473M586.500 443V474M589 442V473M591.500 442V473M594 441V472M596.500 441V470M599 440V468M601.500 440V467M604 439V465M606.500 439V463M609 438V461" stroke="#a8cdf2" stroke-width=".9" fill="none"/>
<path d="M600 438V463" stroke="#3090e8" stroke-width="1.100" fill="none"/>
<path d="M581 444L612 438" stroke="#2070d8" stroke-width="1" fill="none"/>
<path d="M611 437V458M613 437V456M615 437V454" stroke="#30e0f0" stroke-width="1.200" fill="none"/>
<path d="M617 437V453M620 437V452M622 437V450" stroke="#90e4e8" stroke-width="1" fill="none"/>
<rect x="612" y="435.500" width="338" height="3" fill="#8eeabc"/>
<path d="M625 437V449M628 437V449M631 437V448M634 437V449M637 437V448M640 437V448M643 437V449M646 437V448M649 437V448M652 437V449M655 437V449M658 437V448M661 437V449M664 437V448M667 437V448M670 437V449M673 437V448M676 437V449M679 437V449M682 437V448M685 437V449M688 437V449M691 437V447M694 437V449M697 437V448M700 437V449M703 437V448M706 437V447M709 437V448M712 437V447M715 437V448M718 437V447M721 437V448M724 437V447M727 437V447M730 437V448M733 437V447M736 437V448M739 437V447M742 437V448M745 437V448M748 437V447M751 437V447M756 437V448M759 437V447M762 437V448M770 437V448M773 437V447M776 437V448M780 437V447M784 437V446M790 437V447M795 437V446M800 437V447M805 437V446M812 437V446M821 437V446M829 437V446M834 437V447M841 437V446M848 437V446M854 437V446M863 437V446M868 437V446M877 437V446M889 437V446M895 437V446M900 437V446M907 437V446M917 437V445M926 437V445M934 437V445M945 437V446" stroke="#56e29a" stroke-width="1" fill="none"/>
<path d="M650 437V446M684 437V446M716 437V446M736 437V445M778 437V446M891 437V447" stroke="#3fd888" stroke-width="1.600" fill="none"/>
</g>
<g id="leaders4" class="ql">
<path d="M595.700 417.300L614 437M660 412L684 437M726.700 408.300L736.700 437M795.300 407.300L778 437M853.300 406.700L837.300 437M912.300 407.300L891 437"/>
<path d="M584.300 505L581 444M631.300 508L651.700 437M686 501.700L716 437M744 505L751 437M806.700 503.300L809.300 437M863.300 499L865.300 437"/>
</g>
<g id="dots4" class="qd">
<circle cx="614" cy="437" r="2"/><circle cx="684" cy="437" r="2"/><circle cx="736.700" cy="437" r="2"/><circle cx="778" cy="437" r="2"/><circle cx="837.300" cy="437" r="2"/><circle cx="891" cy="437" r="2"/><circle cx="651.700" cy="437" r="2"/><circle cx="716" cy="437" r="2"/><circle cx="751" cy="437" r="2"/><circle cx="809.300" cy="437" r="2"/><circle cx="865.300" cy="437" r="2"/><circle cx="581" cy="444" r="2.300" fill="#1f5f9f"/>
</g>
<g id="q1" class="q" transform="translate(554,394)"><rect class="box" width="41.700" height="23.300" fill="#1cf4ff"/><path class="sep" d="M0 11.500H41.700M21.500 0V23.300"/><text x="29" y="8.500">偏差</text><text x="1.500" y="19">3D距离</text><text x="24" y="19">-0.077</text></g>
<g id="q2" class="q" transform="translate(618,389)"><rect class="box" width="42" height="23.300" fill="#1ff08c"/><path class="sep" d="M0 11.500H42M21.500 0V23.300"/><text x="29" y="8.500">偏差</text><text x="1.500" y="19">3D距离</text><text x="24" y="19">-0.046</text></g>
<g id="q3" class="q" transform="translate(706,385)"><rect class="box" width="42" height="23.300" fill="#1ff08c"/><path class="sep" d="M0 11.500H42M21.500 0V23.300"/><text x="29" y="8.500">偏差</text><text x="1.500" y="19">3D距离</text><text x="24" y="19">-0.042</text></g>
<g id="q4" class="q" transform="translate(774.300,384)"><rect class="box" width="42" height="23.300" fill="#1ff07c"/><path class="sep" d="M0 11.500H42M21.500 0V23.300"/><text x="29" y="8.500">偏差</text><text x="1.500" y="19">3D距离</text><text x="24" y="19">-0.039</text></g>
<g id="q5" class="q" transform="translate(832.700,383)"><rect class="box" width="42" height="23.700" fill="#1ff07c"/><path class="sep" d="M0 11.500H42M21.500 0V23.700"/><text x="29" y="8.500">偏差</text><text x="1.500" y="19">3D距离</text><text x="24" y="19">-0.034</text></g>
<g id="q6" class="q" transform="translate(891,384)"><rect class="box" width="41.700" height="23.300" fill="#1ff070"/><path class="sep" d="M0 11.500H41.700M21.500 0V23.300"/><text x="29" y="8.500">偏差</text><text x="1.500" y="19">3D距离</text><text x="24" y="19">-0.031</text></g>
<g id="q7" class="q" transform="translate(563.700,505)"><rect class="box" width="41.600" height="23.700" fill="#2482f4"/><path class="sep" d="M0 11.500H41.600M21.500 0V23.700"/><text x="29" y="8.500" style="fill:#e8f4ff">偏差</text><text x="1.500" y="19" style="fill:#e8f4ff">3D距离</text><text x="24" y="19" style="fill:#e8f4ff">-0.114</text></g>
<g id="q8" class="q" transform="translate(610.300,508)"><rect class="box" width="41.700" height="23.300" fill="#1ff08c"/><path class="sep" d="M0 11.500H41.700M21.500 0V23.300"/><text x="29" y="8.500">偏差</text><text x="1.500" y="19">3D距离</text><text x="24" y="19">-0.049</text></g>
<g id="q9" class="q" transform="translate(665.300,501.700)"><rect class="box" width="41.700" height="23.300" fill="#1ff08c"/><path class="sep" d="M0 11.500H41.700M21.500 0V23.300"/><text x="29" y="8.500">偏差</text><text x="1.500" y="19">3D距离</text><text x="24" y="19">-0.043</text></g>
<g id="q10" class="q" transform="translate(723,505)"><rect class="box" width="42" height="23.700" fill="#1ff08c"/><path class="sep" d="M0 11.500H42M21.500 0V23.700"/><text x="29" y="8.500">偏差</text><text x="1.500" y="19">3D距离</text><text x="24" y="19">-0.041</text></g>
<g id="q11" class="q" transform="translate(785.700,503.300)"><rect class="box" width="41.600" height="23.400" fill="#1ff078"/><path class="sep" d="M0 11.500H41.600M21.500 0V23.400"/><text x="29" y="8.500">偏差</text><text x="1.500" y="19">3D距离</text><text x="24" y="19">-0.036</text></g>
<g id="q12" class="q" transform="translate(842.300,499)"><rect class="box" width="41.700" height="23.700" fill="#1ff078"/><path class="sep" d="M0 11.500H41.700M21.500 0V23.700"/><text x="29" y="8.500">偏差</text><text x="1.500" y="19">3D距离</text><text x="24" y="19">-0.037</text></g>
</g>
</svg>
